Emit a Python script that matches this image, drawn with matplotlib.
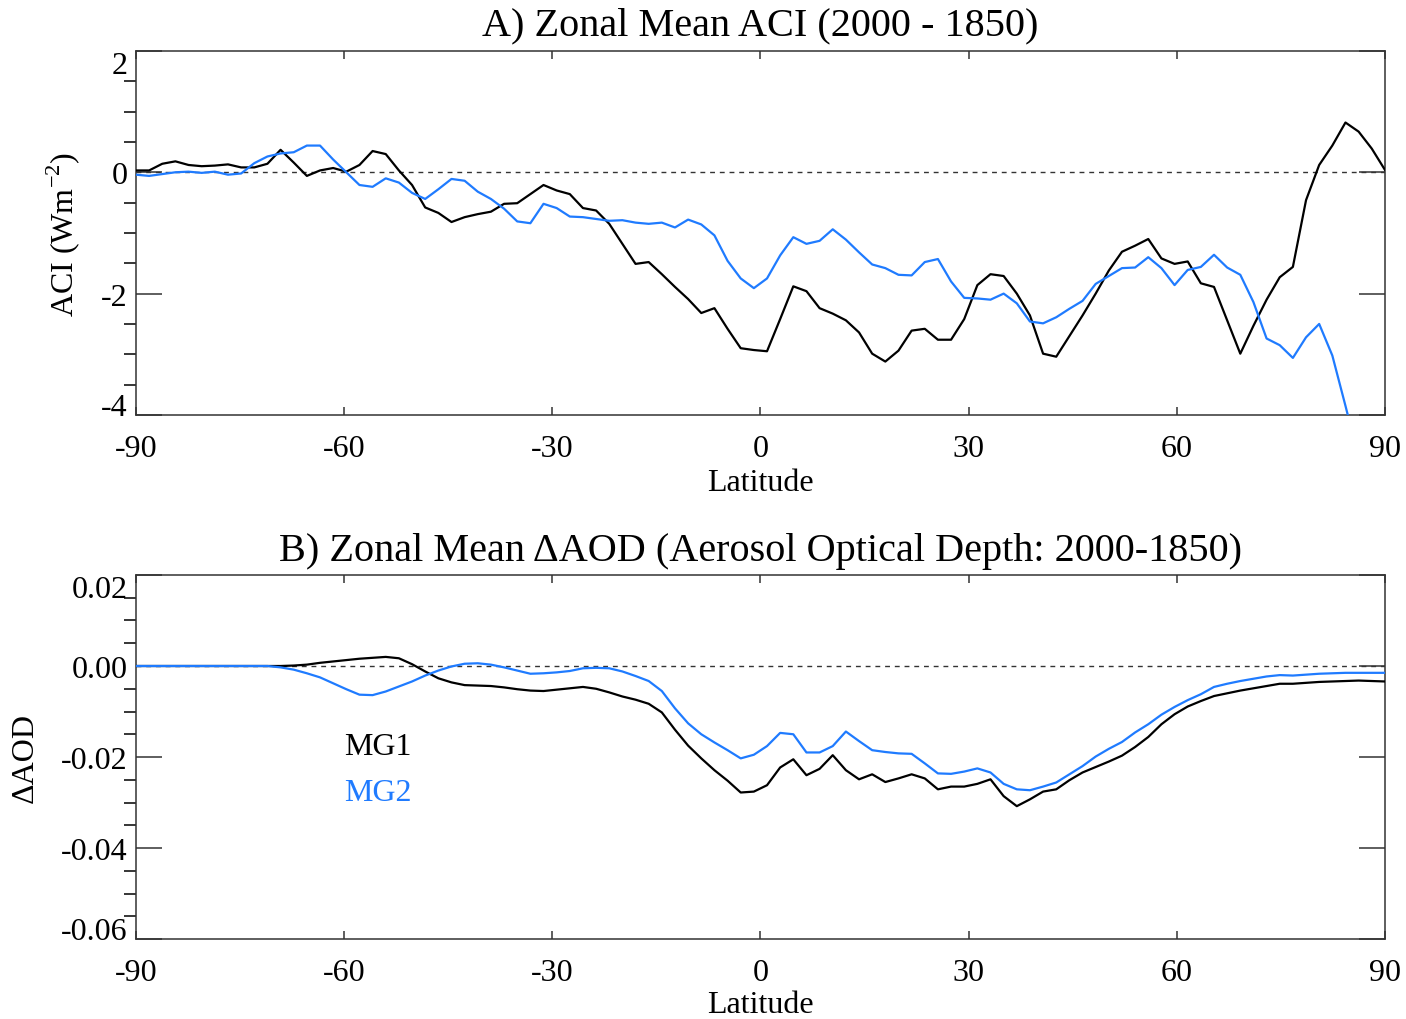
import numpy as np
import matplotlib
matplotlib.use("Agg")
import matplotlib.pyplot as plt
from matplotlib.ticker import MultipleLocator, FuncFormatter

plt.rcParams['font.family'] = ['Liberation Serif', 'DejaVu Serif']
plt.rcParams['mathtext.fontset'] = 'custom'
plt.rcParams['mathtext.rm'] = 'Liberation Serif'
plt.rcParams['axes.unicode_minus'] = False

# model latitude grid (96 rows, about 1.9 deg)
lat = np.linspace(-90, 90, 96)

# A) zonal mean ACI (W m-2)
aci_mg1 = [0.03, 0.03, 0.14, 0.18, 0.12, 0.10, 0.11, 0.13, 0.08, 0.08,
           0.14, 0.37, 0.16, -0.06, 0.03, 0.07, 0.01, 0.12, 0.35, 0.30,
           0.03, -0.21, -0.58, -0.67, -0.82, -0.74, -0.69, -0.65, -0.52, -0.51,
           -0.36, -0.21, -0.30, -0.36, -0.59, -0.63, -0.85, -1.18, -1.51, -1.48,
           -1.68, -1.89, -2.09, -2.32, -2.24, -2.58, -2.90, -2.93, -2.95, -2.42,
           -1.88, -1.96, -2.24, -2.33, -2.44, -2.64, -2.99, -3.12, -2.94, -2.61,
           -2.58, -2.76, -2.76, -2.42, -1.86, -1.68, -1.71, -2.00, -2.36, -2.99,
           -3.04, -2.70, -2.36, -2.00, -1.62, -1.31, -1.21, -1.10, -1.42, -1.51,
           -1.47, -1.83, -1.89, -2.44, -2.99, -2.53, -2.10, -1.73, -1.56, -0.46,
           0.12, 0.44, 0.82, 0.67, 0.39, 0.04]
aci_mg2 = [-0.04, -0.06, -0.03, 0.00, 0.01, -0.01, 0.01, -0.04, -0.02, 0.15,
           0.26, 0.31, 0.33, 0.44, 0.44, 0.21, 0.00, -0.21, -0.24, -0.10,
           -0.17, -0.34, -0.44, -0.28, -0.11, -0.14, -0.32, -0.44, -0.60, -0.81,
           -0.84, -0.52, -0.59, -0.73, -0.74, -0.77, -0.80, -0.79, -0.83, -0.85,
           -0.83, -0.91, -0.78, -0.86, -1.04, -1.46, -1.75, -1.91, -1.75, -1.37,
           -1.07, -1.18, -1.13, -0.94, -1.11, -1.32, -1.52, -1.58, -1.69, -1.70,
           -1.48, -1.43, -1.80, -2.07, -2.08, -2.10, -2.00, -2.16, -2.46, -2.49,
           -2.39, -2.25, -2.12, -1.84, -1.71, -1.58, -1.57, -1.40, -1.58, -1.86,
           -1.61, -1.56, -1.36, -1.57, -1.69, -2.14, -2.74, -2.85, -3.06, -2.72,
           -2.50, -3.02, -3.85, -4.70, np.nan, np.nan]

# B) zonal mean delta AOD
aod_mg1 = [0.0, 0.0, 0.0, 0.0, 0.0, 0.0, 0.0, 0.0, 0.0, 0.0,
           0.0, 0.0, 0.0001, 0.0003, 0.0007, 0.0010, 0.0013, 0.0016, 0.0018, 0.0020,
           0.0017, 0.0004, -0.0012, -0.0027, -0.0036, -0.0042, -0.0043, -0.0044, -0.0047, -0.0051,
           -0.0054, -0.0055, -0.0052, -0.0049, -0.0046, -0.0050, -0.0058, -0.0067, -0.0074, -0.0083,
           -0.0102, -0.0140, -0.0175, -0.0203, -0.0229, -0.0252, -0.0278, -0.0276, -0.0262, -0.0223,
           -0.0205, -0.0240, -0.0226, -0.0196, -0.0229, -0.0249, -0.0238, -0.0255, -0.0247, -0.0238,
           -0.0247, -0.0271, -0.0265, -0.0265, -0.0259, -0.0249, -0.0286, -0.0308, -0.0293, -0.0276,
           -0.0271, -0.0251, -0.0234, -0.0222, -0.0210, -0.0197, -0.0178, -0.0156, -0.0128, -0.0106,
           -0.0089, -0.0077, -0.0066, -0.0060, -0.0054, -0.0049, -0.0044, -0.0039, -0.0039, -0.0037,
           -0.0035, -0.0034, -0.0033, -0.0032, -0.0033, -0.0034]
aod_mg2 = [0.0, 0.0, 0.0, 0.0, 0.0, 0.0, 0.0, 0.0, 0.0, 0.0,
           0.0, -0.0003, -0.0008, -0.0016, -0.0025, -0.0038, -0.0051, -0.0063, -0.0064, -0.0056,
           -0.0045, -0.0034, -0.0021, -0.0010, -0.0001, 0.0005, 0.0006, 0.0003, -0.0003, -0.0010,
           -0.0017, -0.0016, -0.0014, -0.0011, -0.0005, -0.0004, -0.0005, -0.0012, -0.0022, -0.0033,
           -0.0055, -0.0093, -0.0126, -0.0150, -0.0168, -0.0185, -0.0203, -0.0195, -0.0176, -0.0147,
           -0.0150, -0.0190, -0.0190, -0.0176, -0.0144, -0.0165, -0.0185, -0.0189, -0.0192, -0.0193,
           -0.0214, -0.0236, -0.0237, -0.0232, -0.0225, -0.0234, -0.0259, -0.0271, -0.0273, -0.0265,
           -0.0256, -0.0238, -0.0220, -0.0199, -0.0182, -0.0167, -0.0146, -0.0128, -0.0107, -0.0090,
           -0.0075, -0.0062, -0.0046, -0.0039, -0.0033, -0.0028, -0.0023, -0.0020, -0.0021, -0.0019,
           -0.0017, -0.0016, -0.0015, -0.0015, -0.0015, -0.0015]

lat_ticks = [-90, -60, -30, 0, 30, 60, 90]
blue = '#1f7bff'
fs = 23


def style_axes(ax, ymajor, yminor, yfmt):
    ax.set_xlim(-90, 90)
    ax.set_xticks(lat_ticks)
    ax.xaxis.set_major_formatter(FuncFormatter(lambda v, p: "%d" % v))
    ax.yaxis.set_major_locator(MultipleLocator(ymajor))
    ax.yaxis.set_minor_locator(MultipleLocator(yminor))
    ax.yaxis.set_major_formatter(FuncFormatter(yfmt))
    ax.tick_params(axis='both', direction='in', top=True, right=True,
                   labelsize=fs, width=1.1, color='#333333')
    ax.tick_params(axis='x', length=5.8, pad=14)
    ax.tick_params(axis='y', which='major', length=18.7, pad=6)
    ax.tick_params(axis='y', which='minor', length=8.6, width=1.1)
    for s in ax.spines.values():
        s.set_linewidth(1.1)
        s.set_color('#333333')
    ax.axhline(0, color='#333333', lw=1.0, dashes=(3.5, 3.5), zorder=1)
    ax.set_xlabel('Latitude', fontsize=fs)


def pull_end_labels(ax):
    # IDL style: the end labels sit inside the axis range
    ticks = ax.yaxis.get_major_ticks()
    locs = ax.yaxis.get_majorticklocs()
    lo, hi = ax.get_ylim()
    for t, v in zip(ticks, locs):
        if np.isclose(v, hi):
            t.label1.set_va('top')
        elif np.isclose(v, lo):
            t.label1.set_va('baseline')


fig = plt.figure(figsize=(14.06, 10.2), dpi=100)
ax1 = fig.add_axes([0.0967, 0.5922, 0.8883, 0.3569])
ax2 = fig.add_axes([0.0967, 0.0784, 0.8883, 0.3569])

# panel A
ax1.plot(lat, aci_mg1, color='black', lw=1.6, zorder=3)
ax1.plot(lat, aci_mg2, color=blue, lw=1.6, zorder=3)
ax1.set_ylim(-4, 2)
style_axes(ax1, 2, 0.5, lambda v, p: "%d" % round(v))
ax1.set_title('A) Zonal Mean ACI (2000 - 1850)', fontsize=29, pad=12)
ax1.set_ylabel('ACI (Wm$^{-2}$)', fontsize=fs)
ax1.yaxis.set_label_coords(-0.043, 0.5)
ax1.xaxis.set_label_coords(0.5, -0.145)

# panel B
ax2.plot(lat, aod_mg1, color='black', lw=1.6, zorder=3)
ax2.plot(lat, aod_mg2, color=blue, lw=1.6, zorder=3)
ax2.set_ylim(-0.06, 0.02)
style_axes(ax2, 0.02, 0.005, lambda v, p: "%.2f" % v)
ax2.set_title('B) Zonal Mean \u0394AOD (Aerosol Optical Depth: 2000-1850)',
              fontsize=29, pad=11)
ax2.set_ylabel('\u0394AOD', fontsize=fs)
ax2.yaxis.set_label_coords(-0.077, 0.5)
ax2.xaxis.set_label_coords(0.5, -0.14)

ax2.text(-60, -0.0176, 'MG1', color='black', fontsize=fs, va='center', ha='left')
ax2.text(-60, -0.0277, 'MG2', color=blue, fontsize=fs, va='center', ha='left')

fig.canvas.draw()
pull_end_labels(ax1)
pull_end_labels(ax2)

fig.savefig('out.png', dpi=100)
